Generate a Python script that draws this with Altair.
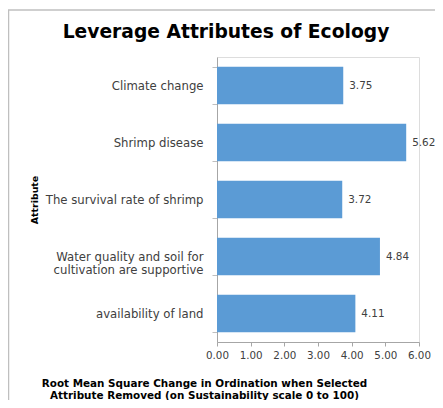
import altair as alt
import pandas as pd

attributes = [
    "Climate change",
    "Shrimp disease",
    "The survival rate of shrimp",
    "Water quality and soil for|cultivation are supportive",
    "availability of land",
]
values = [3.75, 5.62, 3.72, 4.84, 4.11]
x_ticks = [0, 1, 2, 3, 4, 5, 6]
chart_title = ["Leverage Attributes of Ecology"]

df = pd.DataFrame({"attribute": attributes, "value": values})

FONT = "DejaVu Sans"
GRAY = "#404040"

y_enc = alt.Y(
    "attribute:N",
    sort=attributes,
    scale=alt.Scale(paddingInner=0.34, paddingOuter=0.17),
    axis=alt.Axis(
        title="Attribute",
        titleFont=FONT,
        titleFontSize=9.4,
        titleFontWeight="bold",
        titleColor="#000000",
        titleAngle=270,
        titleAlign="center",
        titleBaseline="middle",
        titleX=-183,
        titleY=142.5,
        labelExpr="split(datum.label, '|')",
        labelFont=FONT,
        labelFontSize=11.7,
        labelColor=GRAY,
        labelLineHeight=12.8,
        labelPadding=9,
        labelLimit=300,
        labelOverlap=False,
        ticks=True,
        tickBand="extent",
        tickSize=5,
        tickColor="#bfbfbf",
        domainColor="#a6a6a6",
        grid=False,
    ),
)

x_enc = alt.X(
    "value:Q",
    scale=alt.Scale(domain=[0, 6], nice=False),
    axis=alt.Axis(
        values=x_ticks,
        format=".2f",
        labelOverlap=False,
        labelFlush=False,
        title=[
            "Root Mean Square Change in Ordination when Selected",
            "Attribute Removed (on Sustainability scale 0 to 100)",
        ],
        titleFont=FONT,
        titleFontSize=10.4,
        titleFontWeight="bold",
        titleColor="#000000",
        titleLineHeight=12.5,
        titleAlign="center",
        titleBaseline="top",
        titleX=-13,
        titleY=36,
        labelFont=FONT,
        labelFontSize=10.3,
        labelColor=GRAY,
        labelPadding=4,
        tickSize=4,
        tickColor="#a6a6a6",
        domainColor="#a6a6a6",
        grid=False,
    ),
)

bars = alt.Chart(df).mark_bar(color="#5B9BD5").encode(y=y_enc, x=x_enc)

labels = alt.Chart(df).mark_text(
    align="left", baseline="middle", dx=6, font=FONT, fontSize=10.4, color=GRAY
).encode(
    y=y_enc,
    x=x_enc,
    text=alt.Text("value:Q", format=".2f"),
)

one = pd.DataFrame({"t": chart_title})
border_left = alt.Chart(one).mark_rule(color="#bfbfbf", strokeWidth=1.5).encode(
    x=alt.value(-208.5), y=alt.value(-47), y2=alt.value(400)
)
border_top = alt.Chart(one).mark_rule(color="#bfbfbf", strokeWidth=1.5).encode(
    x=alt.value(-209), x2=alt.value(240), y=alt.value(-47)
)
title_text = alt.Chart(one).mark_text(
    font=FONT, fontSize=18.7, fontWeight="bold", color="#000000",
    align="center", baseline="alphabetic",
).encode(x=alt.value(9), y=alt.value(-19.5), text="t:N")

chart = (
    alt.layer(border_left, border_top, title_text, bars, labels)
    .properties(
        width=202,
        height=285,
        padding={"left": 209, "top": 49, "right": 16, "bottom": 58},
        autosize=alt.AutoSizeParams(type="none"),
    )
    .configure_view(stroke=None)
    .configure(background="white")
)

chart.save("out.html", embed_options={"renderer": "svg", "actions": False})
